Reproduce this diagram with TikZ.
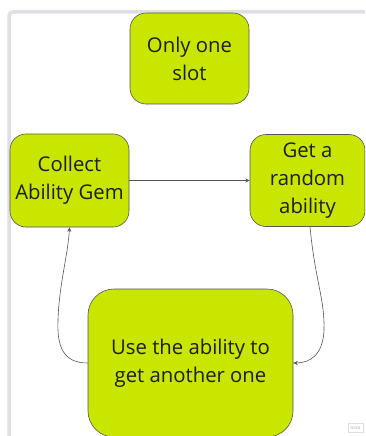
\documentclass[tikz,border=0pt]{standalone}
\usepackage{fontspec}
\setmainfont{Open Sans}
\usetikzlibrary{arrows.meta}
\definecolor{lime}{RGB}{200,230,0}
\definecolor{edgegray}{RGB}{85,85,85}
\definecolor{framegray}{RGB}{222,223,228}
\definecolor{txt}{RGB}{30,30,30}
\tikzset{
  card/.style={draw=edgegray, line width=0.6pt, fill=lime, rounded corners=16pt,
    align=center, text=txt, inner sep=0pt, font=\fontsize{20.3}{28}\selectfont},
  flow/.style={draw=edgegray, line width=0.6pt, -{Stealth[length=4.5pt,width=4pt]}}
}
\begin{document}
\begin{tikzpicture}[x=1pt,y=-1pt]
\useasboundingbox (0,0) rectangle (365,436);
\clip (0,0) rectangle (365,436);
\fill[white] (0,0) rectangle (365,436);
% frame
\draw[framegray, line width=3.5pt, rounded corners=4pt] (9,440) -- (9,12) -- (370,12);
% cards
\node[card, minimum width=119pt, minimum height=91pt] (slot) at (189.5,58.5) {Only one\\slot};
\node[card, minimum width=119pt, minimum height=93pt] (gem) at (69.5,180.5) {Collect\\Ability Gem};
\node[card, minimum width=115pt, minimum height=92pt] (get) at (307.5,180.5) {Get a\\random\\ability};
\node[card, rounded corners=26pt, minimum width=205pt, minimum height=148pt] (use) at (190.5,363) {Use the ability to\\get another one};
% connectors
\draw[flow] (gem.east) -- (get.west);
\draw[flow] ([xshift=2.5pt]get.south) .. controls (315,280) and (325,300) .. (324,330)
  .. controls (323,355) and (310,363) .. (use.east);
\draw[flow] (use.west) .. controls (62,363) and (57,345) .. (58,320)
  .. controls (59,285) and (68,255) .. (gem.south);
% watermark
\node[draw=framegray, line width=0.4pt, text=black!35, font=\fontsize{4.5}{5}\selectfont,
  inner sep=1.2pt, minimum width=15pt, minimum height=9pt] (miro) at (355.5,427.5) {miro};
\end{tikzpicture}
\end{document}
